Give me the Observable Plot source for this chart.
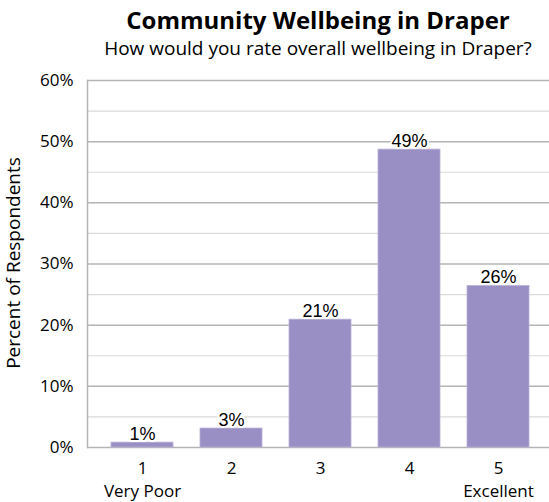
<!DOCTYPE html>
<html><head><meta charset="utf-8">
<script src="https://cdn.jsdelivr.net/npm/d3@7"></script>
<script src="https://cdn.jsdelivr.net/npm/@observablehq/plot@0.6"></script>
<style>
body{margin:0;background:#fff;}
#wrap{position:relative;width:549px;height:502px;overflow:hidden;font-family:"Open Sans",Lato,sans-serif;color:#000;}
#title{position:absolute;left:87px;width:462px;top:6px;height:28px;line-height:28px;text-align:center;font-weight:bold;font-size:24px;white-space:nowrap;}
#subtitle{position:absolute;left:87px;width:462px;top:36px;height:24px;line-height:24px;text-align:center;font-size:19px;white-space:nowrap;}
#ylabel{position:absolute;left:13px;top:263px;transform:translate(-50%,-50%) rotate(-90deg);font-size:19px;white-space:nowrap;}
#chart{position:absolute;left:0;top:64px;}
</style></head><body>
<div id="wrap">
<div id="title">Community Wellbeing in Draper</div>
<div id="subtitle">How would you rate overall wellbeing in Draper?</div>
<div id="ylabel">Percent of Respondents</div>
<div id="chart"></div>
</div>
<script>
const categories = ["1", "2", "3", "4", "5"];
const categoryNames = ["Very Poor", "", "", "", "Excellent"];
const percents = [0.8, 3.1, 20.9, 48.7, 26.4];
const yTicks = [0, 10, 20, 30, 40, 50, 60];
const minorTicks = [5, 15, 25, 35, 45, 55];

const data = categories.map((c, i) => ({category: c, name: categoryNames[i], value: percents[i]}));

const chart = Plot.plot({
  width: 549,
  height: 438,
  marginLeft: 87,
  marginRight: 0,
  marginTop: 16,
  marginBottom: 55,
  style: {fontFamily: "'Open Sans', Lato, sans-serif", background: "transparent"},
  x: {domain: categories, range: [96.3, 542.3], paddingInner: 0.308, paddingOuter: 0.154},
  y: {domain: [0, 60]},
  marks: [
    Plot.ruleY(minorTicks, {stroke: "#dadada", strokeWidth: 1.2}),
    Plot.ruleY(yTicks, {stroke: "#b4b4b4", strokeWidth: 1.5}),
    Plot.frame({anchor: "left", stroke: "#b4b4b4", strokeWidth: 1.5}),
    Plot.barY(data, {x: "category", y: "value", fill: "#9a8fc4", stroke: "#b9b0d8", strokeWidth: 0.8}),
    Plot.text(data, {x: "category", y: "value", text: d => Math.round(d.value) + "%", lineAnchor: "bottom", dy: -3,
      fontFamily: "'Liberation Sans', Arial, sans-serif", fontSize: 18, fill: "#000", stroke: "#fff", strokeWidth: 4, paintOrder: "stroke"}),
    Plot.axisY({ticks: yTicks, tickFormat: d => d + "%", tickSize: 0, tickPadding: 14, fontSize: 17, label: null, fill: "#000"}),
    Plot.axisX({tickFormat: d => categoryNames[categories.indexOf(d)] ? d + "\n" + categoryNames[categories.indexOf(d)] : d,
      tickSize: 0, tickPadding: 10, fontSize: 17, lineHeight: 1.35, label: null, fill: "#000"})
  ]
});
document.getElementById("chart").appendChild(chart);
</script>
</body></html>
